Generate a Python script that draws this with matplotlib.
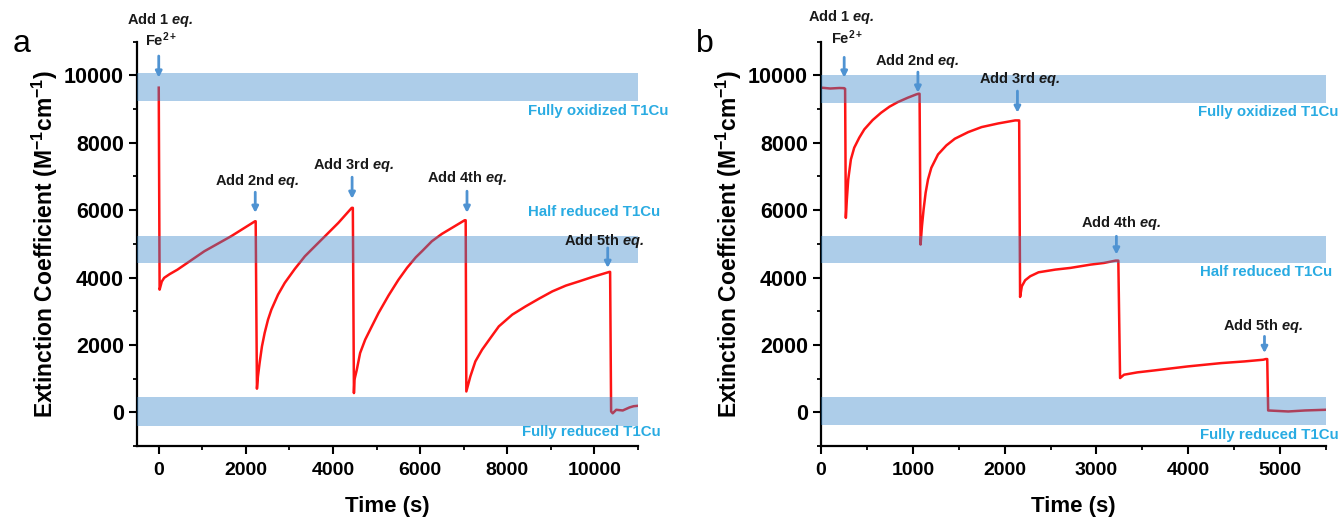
import numpy as np
import matplotlib
matplotlib.use("Agg")
import matplotlib.pyplot as plt
from matplotlib.ticker import MultipleLocator


# =========================
# DATA
# =========================
# panel a: time (s) and extinction coefficient (M-1 cm-1)
TIME_A = [0, 20, 70, 124, 250, 431, 1047, 1661, 2210, 2225, 2254, 2277,
          2315, 2369, 2431, 2508, 2585, 2738, 2892, 3123, 3354, 3584, 3815,
          4123, 4430, 4455, 4480, 4492, 4546, 4622, 4738, 4891, 5045, 5276,
          5500, 5700, 5900, 6050, 6268, 6499, 6729, 7022, 7045, 7060, 7152,
          7267, 7421, 7613, 7806, 8114, 8421, 8729, 9036, 9344, 9652, 9959,
          10267, 10344, 10360, 10383, 10420, 10500, 10650, 10805, 10900, 11000]
EXT_A = [9635, 3640, 3880, 3990, 4100, 4235, 4780, 5225, 5670, 5670, 700, 1064,
         1462, 1956, 2354, 2749, 3046, 3492, 3840, 4255, 4630, 4928, 5225,
         5623, 6068, 6068, 570, 966, 1263, 1759, 2155, 2552, 2948, 3470,
         3930, 4290, 4600, 4790, 5076, 5295, 5473, 5700, 5700, 618, 1064,
         1510, 1857, 2205, 2550, 2898, 3144, 3373, 3590, 3760, 3887, 4018,
         4137, 4167, 4167, 24, -30, 74, 54, 144, 180, 193]

# panel b
TIME_B = [0, 100, 200, 252, 262, 270, 281, 296, 325, 361, 416, 471, 562, 654,
          745, 836, 945, 1037, 1062, 1073, 1084, 1099, 1117, 1139, 1165, 1201,
          1274, 1365, 1457, 1603, 1749, 1931, 2114, 2145, 2158, 2168, 2187,
          2223, 2278, 2369, 2552, 2716, 2935, 3081, 3209, 3238, 3257, 3300,
          3446, 3629, 3994, 4359, 4614, 4816, 4845, 4860, 4870, 5089, 5272, 5491]
EXT_B = [9635, 9610, 9625, 9620, 9600, 5771, 6315, 6910, 7504, 7851, 8149, 8396,
         8673, 8891, 9070, 9207, 9337, 9435, 9455, 9455, 4978, 5522, 6018, 6514,
         6910, 7257, 7653, 7921, 8119, 8316, 8465, 8574, 8663, 8663, 8663, 3423,
         3739, 3918, 4037, 4155, 4235, 4285, 4383, 4432, 4502, 4502, 1016, 1115,
         1185, 1242, 1361, 1460, 1510, 1560, 1580, 1580, 54, 24, 54, 74]

# reference bands (low, high) and their labels
BANDS_A = [(9240, 10060), (4435, 5245), (-400, 450)]
BANDS_B = [(9190, 10000), (4420, 5245), (-370, 450)]
BAND_TEXT = ["Fully oxidized T1Cu", "Half reduced T1Cu", "Fully reduced T1Cu"]
BAND_TEXT_POS_A = [(8480, 8930), (8480, 5930), (8330, -580)]
BAND_TEXT_POS_B = [(4110, 8900), (4130, 4155), (4130, -670)]

# additions: label, text position, arrow x, arrow tail y, arrow tip y
ADD_LABELS = [r"Add 1 $\mathbfit{eq.}$", r"Add 2nd $\mathbfit{eq.}$",
              r"Add 3rd $\mathbfit{eq.}$", r"Add 4th $\mathbfit{eq.}$",
              r"Add 5th $\mathbfit{eq.}$"]
ADD_TEXT_A = [(39, 11650), (2249, 6859), (4461, 7325), (7091, 6960), (10217, 5076)]
ADD_ARROW_A = [(0, 10574, 9932), (2215, 6532, 5920), (4438, 6978, 6336),
               (7075, 6562, 5920), (10305, 4880, 4285)]
FE_POS_A = (58, 11060)

ADD_TEXT_B = [(219, 11720), (1051, 10416), (2160, 9881), (3264, 5631), (4819, 2550)]
ADD_ARROW_B = [(252, 10535, 9932), (1055, 10098, 9486), (2139, 9534, 8891),
               (3217, 5224, 4681), (4830, 2253, 1759)]
FE_POS_B = (285, 11110)


# =========================
# STYLE
# =========================
plt.rcParams["font.family"] = ["Liberation Sans", "DejaVu Sans"]
plt.rcParams["font.weight"] = "bold"
plt.rcParams["mathtext.fontset"] = "custom"
plt.rcParams["mathtext.rm"] = "Liberation Sans:bold"
plt.rcParams["mathtext.bf"] = "Liberation Sans:bold"
plt.rcParams["mathtext.it"] = "Liberation Sans:italic"
plt.rcParams["mathtext.bfit"] = "Liberation Sans:bold:italic"
plt.rcParams["mathtext.default"] = "bf"

LINE_COLOR = "#ff1414"
BAND_COLOR = "#3284c8"
BAND_ALPHA = 0.4
LABEL_COLOR = "#29abe2"
ARROW_COLOR = "#4f93d2"
TEXT_COLOR = "#1a1a1a"


def draw_panel(ax, t, v, bands, band_pos, add_text, add_arrow, fe_pos,
               xlim, xmajor, xminor, letter):
    ax.plot(t, v, color=LINE_COLOR, lw=1.8, zorder=2)

    for (lo, hi) in bands:
        ax.axhspan(lo, hi, color=BAND_COLOR, alpha=BAND_ALPHA, lw=0, zorder=3)

    for txt, (x, y) in zip(BAND_TEXT, band_pos):
        ax.text(x, y, txt, color=LABEL_COLOR, fontsize=10.8, fontweight="bold",
                ha="left", va="center", zorder=5)

    for lab, (x, y) in zip(ADD_LABELS, add_text):
        ax.text(x, y, lab, color=TEXT_COLOR, fontsize=10.5, fontweight="bold",
                ha="center", va="center", zorder=5, clip_on=False)
    ax.text(fe_pos[0], fe_pos[1], r"Fe$^{2+}$", color=TEXT_COLOR, fontsize=10.5,
            ha="center", va="center", clip_on=False)

    for (x, y0, y1) in add_arrow:
        ax.annotate("", xy=(x, y1), xytext=(x, y0),
                    arrowprops=dict(arrowstyle="-|>,head_length=0.35,head_width=0.18",
                                    color=ARROW_COLOR, lw=2.0, shrinkA=0, shrinkB=0),
                    annotation_clip=False, zorder=6)

    ax.set_xlim(*xlim)
    ax.set_ylim(-1000, 11000)
    ax.xaxis.set_major_locator(MultipleLocator(xmajor))
    ax.xaxis.set_minor_locator(MultipleLocator(xminor))
    ax.yaxis.set_major_locator(MultipleLocator(2000))
    ax.yaxis.set_minor_locator(MultipleLocator(1000))

    for side in ["top", "right"]:
        ax.spines[side].set_visible(False)
    for side in ["left", "bottom"]:
        ax.spines[side].set_linewidth(1.6)

    ax.tick_params(which="major", direction="out", length=5.5, width=1.5)
    ax.tick_params(which="minor", direction="out", length=3, width=1.3)
    ax.tick_params(axis="x", labelsize=14, pad=6)
    ax.tick_params(axis="y", labelsize=15.5, pad=4)

    ax.set_xlabel("Time (s)", fontsize=16, fontweight="bold", labelpad=12)
    ax.set_ylabel(r"Extinction Coefficient (M$^{-1}$cm$^{-1}$)", fontsize=16.5,
                  fontweight="bold", labelpad=3)

    ax.text(-0.23, 0.995, letter, transform=ax.transAxes, fontsize=23,
            fontweight="normal", ha="center", va="center")


def main():
    fig = plt.figure(figsize=(13.44, 5.19), dpi=100)
    ax_a = fig.add_axes([0.1019, 0.1407, 0.3728, 0.779])
    ax_b = fig.add_axes([0.6109, 0.1407, 0.3757, 0.779])

    draw_panel(ax_a, TIME_A, EXT_A, BANDS_A, BAND_TEXT_POS_A, ADD_TEXT_A,
               ADD_ARROW_A, FE_POS_A, (-500, 11000), 2000, 1000, "a")
    draw_panel(ax_b, TIME_B, EXT_B, BANDS_B, BAND_TEXT_POS_B, ADD_TEXT_B,
               ADD_ARROW_B, FE_POS_B, (0, 5500), 1000, 500, "b")

    fig.savefig("out.png", dpi=100)
    plt.close(fig)


if __name__ == "__main__":
    main()
